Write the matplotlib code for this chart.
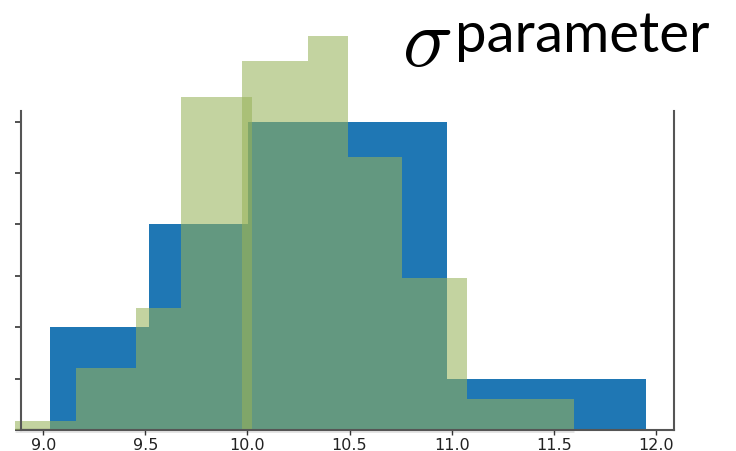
import matplotlib
matplotlib.use('Agg')
from matplotlib import pyplot as plt
import numpy as np

# blue histogram: bin edges and counts
blue_edges = [9.031, 9.519, 10.005, 10.490, 10.977, 11.463, 11.950]
blue_counts = [2, 4, 6, 6, 1, 1]

# green histogram: left edge, right edge, height (same units as the blue counts)
green_left = [8.861, 9.160, 9.454, 9.677, 9.973, 10.296, 10.491, 10.757, 11.075]
green_right = [9.160, 9.454, 9.677, 10.021, 10.296, 10.491, 10.757, 11.075, 11.599]
green_height = [0.17, 1.20, 2.37, 6.48, 7.18, 7.67, 5.31, 2.95, 0.60]

x_ticks = [9.0, 9.5, 10.0, 10.5, 11.0, 11.5, 12.0]
y_ticks = [0, 1, 2, 3, 4, 5, 6]

plt.rcParams['mathtext.fontset'] = 'cm'

fig = plt.figure(figsize=(7.36, 4.52), dpi=100)
ax = fig.add_axes([0.0285, 0.0465, 0.8873, 0.705])

# blue bars first, green semi-transparent bars on top
ax.stairs(blue_counts, blue_edges, fill=True, color='#1f77b4', zorder=2)

widths = np.array(green_right) - np.array(green_left)
ax.bar(green_left, green_height, width=widths, align='edge', color='#97b259',
       alpha=0.57, linewidth=0, zorder=3, clip_on=False)

# faint base strip under the green bars
ax.hlines(0, min(green_left), max(green_right), color='#e4e4e4', lw=3.5,
          zorder=1, clip_on=False)

ax.set_xlim(8.891, 12.089)
ax.set_ylim(0, 6.2)
ax.set_xticks(x_ticks)
ax.set_xticklabels(['%.1f' % t for t in x_ticks])
ax.set_yticks(y_ticks)
ax.set_yticklabels([])

ax.spines['top'].set_visible(False)
for side in ['left', 'right', 'bottom']:
    ax.spines[side].set_color('#555555')
    ax.spines[side].set_linewidth(1.5)
    ax.spines[side].set_zorder(4)

ax.tick_params(axis='x', direction='out', length=3.5, width=1, color='#333333',
               labelsize=11.5, labelcolor='#222222', pad=1.5)
ax.tick_params(axis='y', direction='out', length=4.5, width=1.2, color='#333333')

# title: big italic sigma followed by the word
fig.text(0.5795, 0.905, r'$\sigma$', ha='center', va='center',
         fontsize=60, color='black')
fig.text(0.791, 0.886, 'parameter', ha='center', va='baseline',
         fontsize=40.5, family='Lato', color='black')

fig.savefig('out.png', dpi=100)
